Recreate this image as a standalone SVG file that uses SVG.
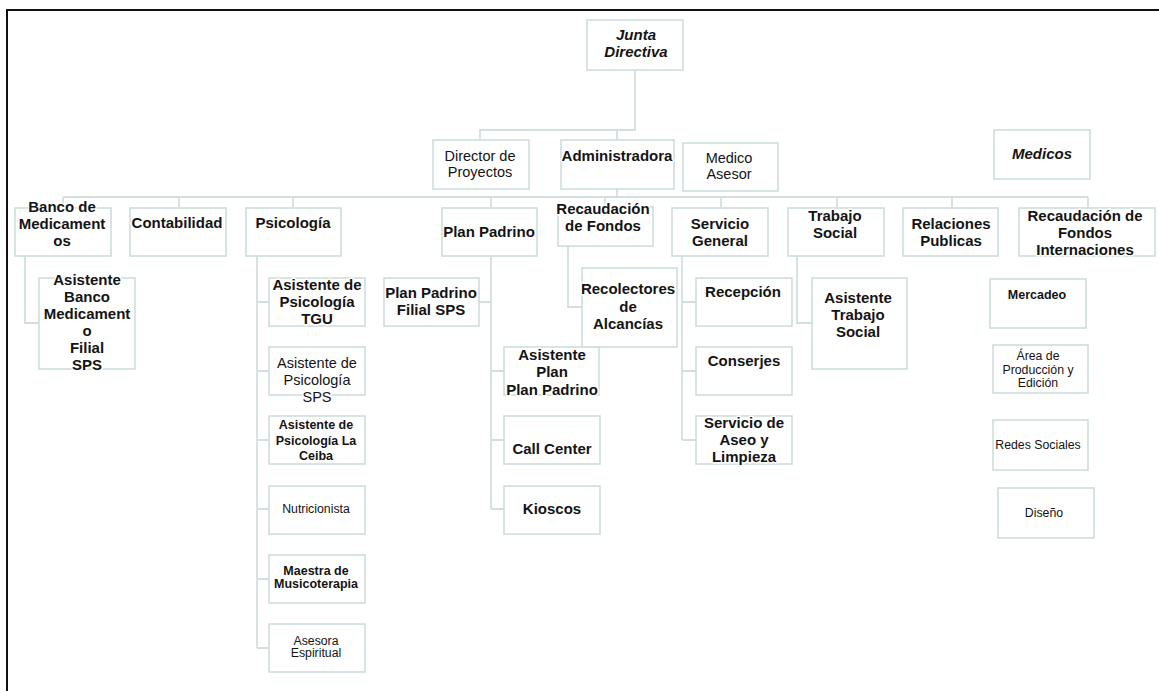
<svg xmlns="http://www.w3.org/2000/svg" width="1159" height="691" viewBox="0 0 1159 691">
<style>
.box{fill:#fff;stroke:#cfdcdc;stroke-width:1.6}
.ln{fill:none;stroke:#d3dfdf;stroke-width:1.8}
text{font-family:"Liberation Sans",Arial,sans-serif;fill:#141414;text-anchor:middle;stroke:#fff;stroke-width:3;paint-order:stroke;stroke-linejoin:round}
.b{font-size:15px;font-weight:bold}
.r{font-size:14.5px}
.bi{font-size:15px;font-weight:bold;font-style:italic}
.bs{font-size:12.5px;font-weight:bold}
.rs{font-size:12.3px}
</style>
<rect width="1159" height="691" fill="#fff"/>
<rect x="7" y="10" width="1160" height="690" fill="none" stroke="#111" stroke-width="2"/>
<g id="connectors">
<path class="ln" d="M635,70V130H480V140M617,130V140"/>
<path class="ln" d="M617,189V197M63,197H1088M63,197V208M179,197V208M293,197V208M491,197V208M605,197V207M721,197V208M837,197V208M952,197V208M1088,197V208"/>
<path class="ln" d="M25,256V323H39"/>
<path class="ln" d="M257,256V648M257,302H269M257,371H269M257,440H269M257,509H269M257,579H269M257,648H269"/>
<path class="ln" d="M491,256V509M491,302H479M491,371H504M491,440H504M491,509H504"/>
<path class="ln" d="M568,246V307H582"/>
<path class="ln" d="M682,256V440M682,302H696M682,371H696M682,440H696"/>
<path class="ln" d="M797,256V323H812"/>
</g>
<g id="junta"><rect class="box" x="587" y="20" width="96" height="50"/><text class="bi" x="636" y="40">Junta</text><text class="bi" x="636" y="57">Directiva</text></g>
<g id="director"><rect class="box" x="433" y="140" width="96" height="49"/><text class="r" x="480" y="161">Director de</text><text class="r" x="480" y="177">Proyectos</text></g>
<g id="administradora"><rect class="box" x="561" y="140" width="113" height="49"/><text class="b" x="617" y="161">Administradora</text></g>
<g id="medico-asesor"><rect class="box" x="683" y="143" width="95" height="48"/><text class="r" x="729" y="163">Medico</text><text class="r" x="729" y="179">Asesor</text></g>
<g id="medicos"><rect class="box" x="994" y="130" width="96" height="49"/><text class="bi" x="1042" y="159">Medicos</text></g>
<g id="banco"><rect class="box" x="15" y="208" width="96" height="48"/><text class="b" x="62" y="212">Banco de</text><text class="b" x="62" y="229">Medicament</text><text class="b" x="62" y="246">os</text></g>
<g id="contabilidad"><rect class="box" x="130" y="208" width="96" height="48"/><text class="b" x="177" y="228">Contabilidad</text></g>
<g id="psicologia"><rect class="box" x="246" y="208" width="95" height="48"/><text class="b" x="293" y="228">Psicología</text></g>
<g id="plan-padrino"><rect class="box" x="442" y="208" width="95" height="48"/><text class="b" x="489" y="237">Plan Padrino</text></g>
<g id="recaudacion"><rect class="box" x="558" y="207" width="95" height="39"/><text class="b" x="603" y="214">Recaudación</text><text class="b" x="603" y="231">de Fondos</text></g>
<g id="servicio-general"><rect class="box" x="672" y="208" width="96" height="48"/><text class="b" x="720" y="229">Servicio</text><text class="b" x="720" y="246">General</text></g>
<g id="trabajo-social"><rect class="box" x="788" y="208" width="96" height="48"/><text class="b" x="835" y="221">Trabajo</text><text class="b" x="835" y="238">Social</text></g>
<g id="relaciones"><rect class="box" x="903" y="208" width="95" height="48"/><text class="b" x="951" y="229">Relaciones</text><text class="b" x="951" y="246">Publicas</text></g>
<g id="recaudacion-int"><rect class="box" x="1019" y="208" width="136" height="48"/><text class="b" x="1085" y="221">Recaudación de</text><text class="b" x="1085" y="238">Fondos</text><text class="b" x="1085" y="255">Internaciones</text></g>
<g id="asistente-banco"><rect class="box" x="39" y="278" width="96" height="91"/><text class="b" x="87" y="285">Asistente</text><text class="b" x="87" y="302">Banco</text><text class="b" x="87" y="319">Medicament</text><text class="b" x="87" y="336">o</text><text class="b" x="87" y="353">Filial</text><text class="b" x="87" y="370">SPS</text></g>
<g id="psic-tgu"><rect class="box" x="269" y="278" width="96" height="48"/><text class="b" x="317" y="290">Asistente de</text><text class="b" x="317" y="307">Psicología</text><text class="b" x="317" y="324">TGU</text></g>
<g id="psic-sps"><rect class="box" x="269" y="347" width="96" height="48"/><text class="r" x="317" y="368">Asistente de</text><text class="r" x="317" y="385">Psicología</text><text class="r" x="317" y="402">SPS</text></g>
<g id="psic-ceiba"><rect class="box" x="269" y="416" width="96" height="48"/><text class="bs" x="316" y="429">Asistente  de</text><text class="bs" x="316" y="444.5">Psicología La</text><text class="bs" x="316" y="460">Ceiba</text></g>
<g id="nutricionista"><rect class="box" x="269" y="486" width="96" height="48"/><text class="rs" x="316" y="513">Nutricionista</text></g>
<g id="maestra"><rect class="box" x="269" y="555" width="96" height="48"/><text class="bs" x="316" y="575">Maestra  de</text><text class="bs" x="316" y="588">Musicoterapia</text></g>
<g id="asesora"><rect class="box" x="269" y="624" width="96" height="48"/><text class="rs" x="316" y="645">Asesora</text><text class="rs" x="316" y="657">Espiritual</text></g>
<g id="plan-filial"><rect class="box" x="384" y="278" width="95" height="48"/><text class="b" x="431" y="298">Plan Padrino</text><text class="b" x="431" y="315">Filial SPS</text></g>
<g id="asistente-plan"><rect class="box" x="504" y="347" width="95" height="48"/><text class="b" x="552" y="360">Asistente</text><text class="b" x="552" y="377">Plan</text><text class="b" x="552" y="395">Plan Padrino</text></g>
<g id="call-center"><rect class="box" x="504" y="416" width="96" height="48"/><text class="b" x="552" y="454">Call Center</text></g>
<g id="kioscos"><rect class="box" x="504" y="486" width="96" height="48"/><text class="b" x="552" y="514">Kioscos</text></g>
<g id="recolectores"><rect class="box" x="582" y="268" width="95" height="79"/><text class="b" x="628" y="294">Recolectores</text><text class="b" x="628" y="311.5">de</text><text class="b" x="628" y="329">Alcancías</text></g>
<g id="recepcion"><rect class="box" x="696" y="278" width="96" height="48"/><text class="b" x="743" y="297">Recepción</text></g>
<g id="conserjes"><rect class="box" x="696" y="347" width="96" height="48"/><text class="b" x="744" y="366">Conserjes</text></g>
<g id="aseo"><rect class="box" x="696" y="416" width="96" height="48"/><text class="b" x="744" y="428">Servicio de</text><text class="b" x="744" y="445">Aseo y</text><text class="b" x="744" y="462">Limpieza</text></g>
<g id="asistente-trabajo"><rect class="box" x="812" y="278" width="95" height="91"/><text class="b" x="858" y="302.5">Asistente</text><text class="b" x="858" y="319.5">Trabajo</text><text class="b" x="858" y="337">Social</text></g>
<g id="mercadeo"><rect class="box" x="990" y="279" width="96" height="49"/><text class="bs" x="1037" y="298.5">Mercadeo</text></g>
<g id="produccion"><rect class="box" x="993" y="345" width="95" height="48"/><text class="rs" x="1038" y="360">Área de</text><text class="rs" x="1038" y="373.5">Producción y</text><text class="rs" x="1038" y="387">Edición</text></g>
<g id="redes"><rect class="box" x="993" y="420" width="95" height="50"/><text class="rs" x="1038" y="448.5">Redes Sociales</text></g>
<g id="diseno"><rect class="box" x="998" y="488" width="96" height="50"/><text class="rs" x="1044" y="517">Diseño</text></g>
</svg>
